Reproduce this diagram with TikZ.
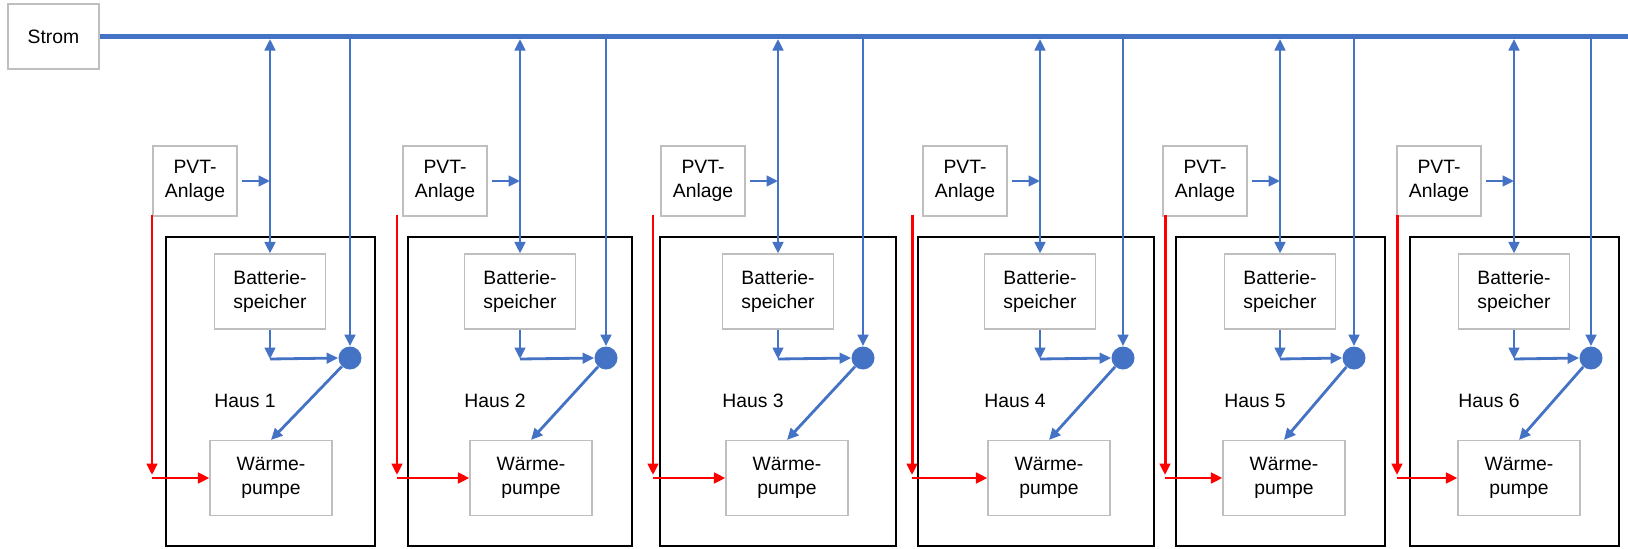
\documentclass[tikz,border=0pt]{standalone}
\usepackage{fontspec}
\setmainfont{Liberation Sans}
\usetikzlibrary{arrows.meta,positioning}
\definecolor{strblue}{HTML}{4472C4}
\definecolor{heatred}{HTML}{FF0000}
\definecolor{boxgray}{HTML}{BFBFBF}
\tikzset{
  >={Triangle[length=2.3mm,width=2.1mm]},
  % komponenten
  comp/.style={draw=boxgray,line width=0.6pt,fill=white,align=center,inner sep=0pt,
               font=\fontsize{11}{13.5}\selectfont},
  pvt/.style={comp,minimum width=16.8mm,minimum height=14mm},
  bat/.style={comp,minimum width=22.2mm,minimum height=15mm},
  wp/.style={comp,minimum width=24.4mm,minimum height=15mm},
  hauslbl/.style={font=\fontsize{11}{13}\selectfont,inner sep=1pt},
  haus/.style={draw=black,line width=1.4pt},
  knot/.style={circle,fill=strblue,inner sep=0pt,minimum size=4.6mm},
  % leitungen
  bus/.style={draw=strblue,line width=2.8pt},
  el/.style={->,draw=strblue,line width=1.6pt},
  heat/.style={->,draw=heatred,line width=1.7pt},
}
\begin{document}
\begin{tikzpicture}[x=0.2mm,y=-0.2mm]
  \useasboundingbox (0,0) rectangle (1628,549);
  \node[comp,minimum width=18.2mm,minimum height=13mm] (strom) at (53.5,36.5) {Strom};
  \coordinate (busend) at (1628,36.5);
  \draw[bus] (strom.east) -- (busend);
  \foreach \n/\v/\r/\bl/\br/\w/\rd in {1/270/350/166/375/271/152,
      2/520/606/408/632/531/397, 3/778/863/660/896/787/653,
      4/1040/1123/918/1154/1049/912, 5/1280/1354/1176/1385/1284/1165,
      6/1514/1591/1410/1619/1519/1397}{
    \draw[haus] (\bl,237) rectangle (\br,546);
    \node[pvt] (pvt\n) at (\v-75,181) {PVT-\\Anlage};
    \node[bat] (bat\n) at (\v,291.5) {Batterie-\\speicher};
    \node[wp] (wp\n) at (\w,478) {Wärme-\\pumpe};
    \node[knot] (k\n) at (\r,358) {};
    \node[hauslbl] (lbl\n) at (\v-25,401) {Haus \n};
    \coordinate (up\n) at (\v,39);
    \coordinate (dn\n) at (\r,39);
    \coordinate (tap\n) at (\v,181);
    \coordinate (turn\n) at (\v,359);
    \coordinate (rtop\n) at (\rd,215);
    \coordinate (rbot\n) at (\rd,475);
    \coordinate (rin\n) at (\rd,478);
    \draw[el,<->] (up\n) -- (bat\n.north);
    \draw[el] ([xshift=0.8mm]pvt\n.east) -- (tap\n);
    \draw[el] (bat\n.south) -- (turn\n);
    \draw[el] (turn\n) -- (k\n.west);
    \draw[el] (dn\n) -- (k\n.north);
    \draw[el] (k\n) -- (wp\n.north);
    \draw[heat] (rtop\n) -- (rbot\n);
    \draw[heat] (rin\n) -- (wp\n.west);
  }
\end{tikzpicture}
\end{document}
